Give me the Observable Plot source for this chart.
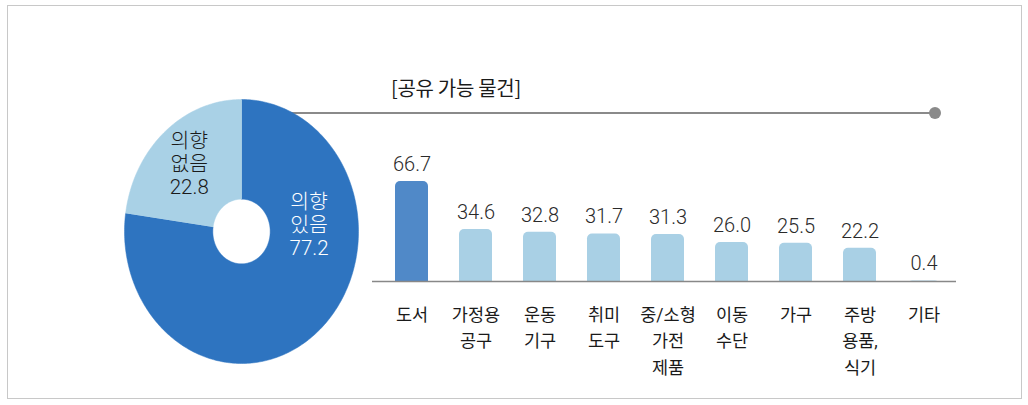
<!DOCTYPE html>
<html>
<head>
<meta charset="utf-8">
<script src="https://cdn.jsdelivr.net/npm/d3@7"></script>
<script src="https://cdn.jsdelivr.net/npm/@observablehq/plot@0.6"></script>
<style>
  html, body { margin: 0; padding: 0; background: #fff; }
  #wrap { position: relative; width: 1028px; height: 405px; overflow: hidden; font-family: Roboto, "Noto Sans CJK KR", sans-serif; }
  #frame { position: absolute; left: 7px; top: 5px; width: 1013px; height: 392px; border: 1.5px solid #c8c8c8; }
  #bars { position: absolute; left: 0; top: 0; }
  #pie { position: absolute; left: 124px; top: 99px; }
  #title { position: absolute; left: 391px; top: 73px; font-size: 20px; color: #1a1a1a; font-family: "Noto Sans CJK KR", sans-serif; letter-spacing: -0.3px; }
  #connector { position: absolute; left: 260px; top: 112px; width: 676px; height: 0; border-top: 2px solid #8a8a8a; }
  #dot { position: absolute; left: 929px; top: 107px; width: 12px; height: 12px; border-radius: 50%; background: #8a8a8a; }
</style>
</head>
<body>
<div id="wrap">
  <div id="frame"></div>
  <div id="bars"></div>
  <div id="connector"></div>
  <div id="dot"></div>
  <div id="pie"></div>
  <div id="title">[공유 가능 물건]</div>
</div>
<script>
// ---- data ----
const pieLabels = ["의향있음", "의향없음"];
const pieTexts = ["의향\n있음", "의향\n없음"];
const pieValues = [77.2, 22.8];

const categories = ["도서", "가정용 공구", "운동 기구", "취미 도구", "중/소형 가전 제품", "이동 수단", "가구", "주방 용품, 식기", "기타"];
const categoryTexts = ["도서", "가정용\n공구", "운동\n기구", "취미\n도구", "중/소형\n가전\n제품", "이동\n수단", "가구", "주방\n용품,\n식기", "기타"];
const values = [66.7, 34.6, 32.8, 31.7, 31.3, 26.0, 25.5, 22.2, 0.4];

// ---- colours ----
const pieColors = ["#2e74c0", "#a9d1e6"];
const pieTextColors = ["#ffffff", "#1a1a1a"];
const barDark = "#5089c8";
const barLight = "#a9d0e5";

// ---- bar chart ----
const barData = categories.map((c, i) => ({cat: c, text: categoryTexts[i], value: values[i]}));
const font = "Roboto, 'Noto Sans CJK KR', sans-serif";

const bars = Plot.plot({
  width: 1028,
  height: 405,
  marginLeft: 372,
  marginRight: 72,
  marginTop: 131,
  marginBottom: 124,
  style: {fontFamily: font, background: "transparent", overflow: "visible"},
  x: {type: "band", domain: categories, paddingInner: 0.488, paddingOuter: 0.2755, align: 0.59, axis: null},
  y: {domain: [0, 100], axis: null},
  marks: [
    Plot.barY(barData, {x: "cat", y1: -6, y2: "value", rx: 5, clip: true,
      fill: (d, i) => i === 0 ? barDark : barLight}),
    Plot.ruleY([0], {stroke: "#888", strokeWidth: 1.5}),
    Plot.text(barData, {x: "cat", y: "value", text: d => d.value.toFixed(1), dy: -17,
      fontSize: 20, fontWeight: 300, fill: "#2a2a2a"}),
    Plot.text(barData, {x: "cat", y: 0, text: "text", lineAnchor: "top", dy: 21,
      lineHeight: 1.5, fontSize: 17.5, fill: "#1a1a1a"})
  ]
});
document.getElementById("bars").appendChild(bars);

// ---- donut ----
const arcs = d3.pie().sort(null).value(d => d)(pieValues);
const inner = 0.245;
const polys = [];
arcs.forEach((a, k) => {
  const n = Math.max(8, Math.ceil((a.endAngle - a.startAngle) / (Math.PI / 180)));
  for (let j = 0; j <= n; j++) {
    const t = a.startAngle + (a.endAngle - a.startAngle) * j / n;
    polys.push({slice: pieLabels[k], x: Math.sin(t), y: Math.cos(t)});
  }
  for (let j = n; j >= 0; j--) {
    const t = a.startAngle + (a.endAngle - a.startAngle) * j / n;
    polys.push({slice: pieLabels[k], x: inner * Math.sin(t), y: inner * Math.cos(t)});
  }
});
const pieLabelData = arcs.map((a, k) => {
  const big = (a.endAngle - a.startAngle) > Math.PI;
  const ang = big ? a.startAngle + Math.PI * 0.47 : (a.startAngle + a.endAngle) / 2;
  const r = big ? 0.58 : 0.68;
  return {x: r * Math.sin(ang), y: r * Math.cos(ang),
    text: pieTexts[k] + "\n" + pieValues[k].toFixed(1), color: pieTextColors[k]};
});

const pie = Plot.plot({
  width: 234,
  height: 264,
  margin: 0,
  style: {fontFamily: font, background: "transparent", overflow: "visible"},
  x: {domain: [-1, 1], axis: null},
  y: {domain: [-1, 1], axis: null},
  marks: [
    ...pieLabels.map((s, k) => Plot.line(polys.filter(p => p.slice === s),
      {x: "x", y: "y", fill: pieColors[k], stroke: pieColors[k], strokeWidth: 0.5, curve: "linear"})),
    Plot.text(pieLabelData, {x: "x", y: "y", text: "text", fill: d => d.color,
      fontSize: 20.5, fontWeight: 300, lineHeight: 1.12})
  ]
});
document.getElementById("pie").appendChild(pie);
</script>
</body>
</html>
